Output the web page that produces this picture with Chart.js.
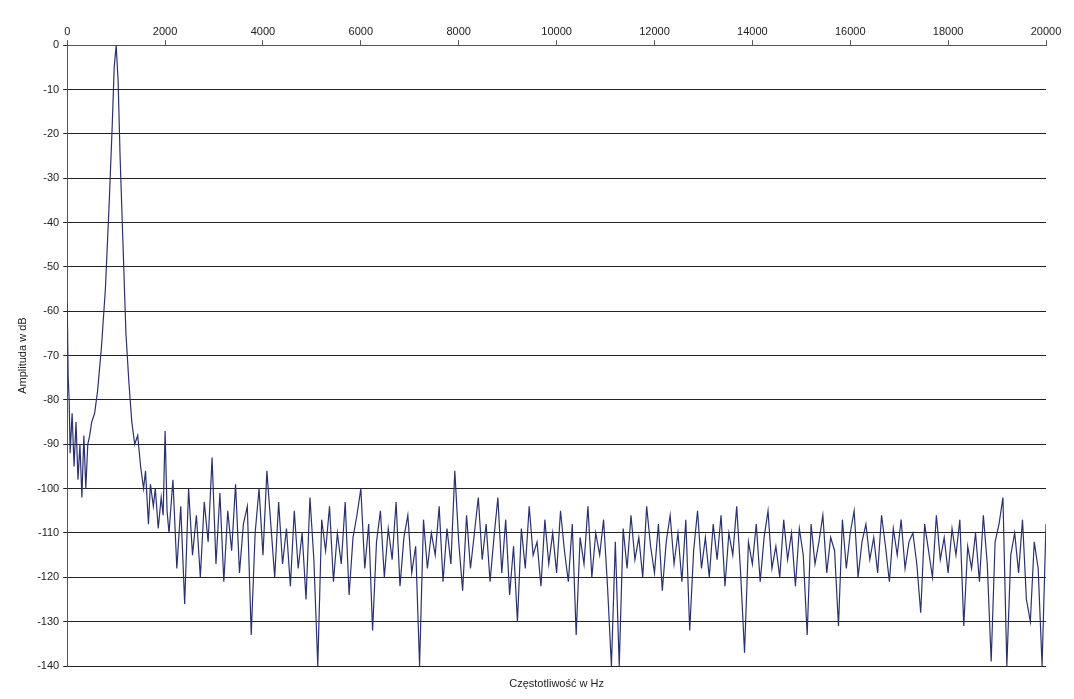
<!DOCTYPE html>
<html><head><meta charset="utf-8">
<script src="https://cdn.jsdelivr.net/npm/chart.js@4"></script>
<style>html,body{margin:0;padding:0;background:#fff}#w{width:1074px;height:699px}</style>
</head><body><div id="w"><canvas id="c"></canvas></div>
<script>
const lowFreqs = [0,20,40,60,100,140,180,220,260,300,340,380,420,460,500,560,620,700,780,860,920,960,1000,1040,1080,1140,1200,1260,1320,1380,1440,1500,1560,1600,1660,1700,1760,1800,1860,1920,1960,2000,2040];
const lowAmps = [-58,-75,-80,-92,-83,-95,-85,-98,-90,-102,-88,-100,-90,-88,-85,-83,-78,-68,-55,-35,-18,-5,0,-8,-25,-45,-65,-76,-85,-90,-88,-95,-100,-96,-108,-99,-104,-100,-109,-102,-106,-87,-105];
const noiseStart = 2080, noiseStep = 80;
const noiseAmps = [
-110,-98,-118,-104,-126,-100,-115,-106,-120,-103,
-112,-93,-117,-101,-121,-105,-114,-99,-119,-108,
-104,-133,-110,-100,-115,-96,-108,-120,-103,-117,
-109,-122,-105,-118,-110,-125,-102,-116,-140,-107,
-114,-104,-121,-110,-117,-103,-124,-111,-106,-100,
-118,-108,-132,-112,-105,-120,-109,-116,-103,-122,
-111,-106,-119,-113,-140,-107,-118,-110,-115,-104,
-121,-109,-117,-96,-112,-123,-106,-118,-110,-102,
-116,-108,-121,-111,-102,-119,-107,-124,-113,-130,
-109,-118,-104,-115,-112,-122,-107,-117,-110,-119,
-105,-114,-121,-108,-133,-111,-117,-104,-120,-110,
-115,-107,-122,-140,-112,-140,-109,-118,-106,-116,
-111,-120,-104,-113,-119,-108,-123,-112,-106,-117,
-110,-121,-107,-132,-114,-105,-118,-111,-120,-108,
-116,-106,-122,-110,-115,-104,-119,-137,-112,-117,
-108,-121,-111,-105,-118,-113,-120,-107,-116,-110,
-122,-109,-115,-133,-108,-117,-112,-106,-119,-111,
-114,-131,-107,-118,-110,-105,-120,-112,-108,-116,
-111,-119,-106,-113,-121,-109,-115,-107,-118,-112,
-110,-117,-128,-108,-114,-120,-106,-116,-111,-119,
-109,-115,-107,-131,-113,-118,-110,-121,-106,-117,
-139,-112,-108,-102,-140,-115,-110,-119,-107,-125,
-130,-112,-118,-140,-108];
const pts = lowFreqs.map((f,i)=>({x:f,y:lowAmps[i]}))
  .concat(noiseAmps.map((a,i)=>({x:noiseStart+i*noiseStep,y:a})));
const font = {family:'Arial, "Liberation Sans", sans-serif', size:11};
new Chart(document.getElementById('c'),{
  type:'line',
  data:{datasets:[{data:pts,borderColor:'#2a3170',borderWidth:1.2,pointRadius:0,tension:0,fill:false}]},
  options:{responsive:true,maintainAspectRatio:false,animation:false,
    layout:{padding:{left:12,right:28,top:23,bottom:33}},
    plugins:{legend:{display:false},tooltip:{enabled:false}},
    scales:{
      x:{type:'linear',position:'top',min:0,max:20000,
        ticks:{stepSize:2000,color:'#222',font,maxRotation:0,padding:2,callback:v=>String(v)},
        grid:{drawOnChartArea:false,color:'#555',tickLength:5},
        border:{color:'#555'}},
      y:{min:-140,max:0,
        ticks:{stepSize:10,color:'#222',font,padding:4,callback:v=>String(v)},
        grid:{color:'#222',tickLength:4},
        border:{color:'#555'},
        title:{display:true,text:'Amplituda w dB',color:'#222',font}}
    }
  },
  plugins:[{id:'xt',afterDraw(ch){const c=ch.ctx,a=ch.chartArea;c.save();c.font='11px Arial, "Liberation Sans", sans-serif';c.fillStyle='#222';c.textAlign='center';c.fillText('Częstotliwość w Hz',(a.left+a.right)/2,a.bottom+21);c.restore();}}]
});
</script></body></html>
